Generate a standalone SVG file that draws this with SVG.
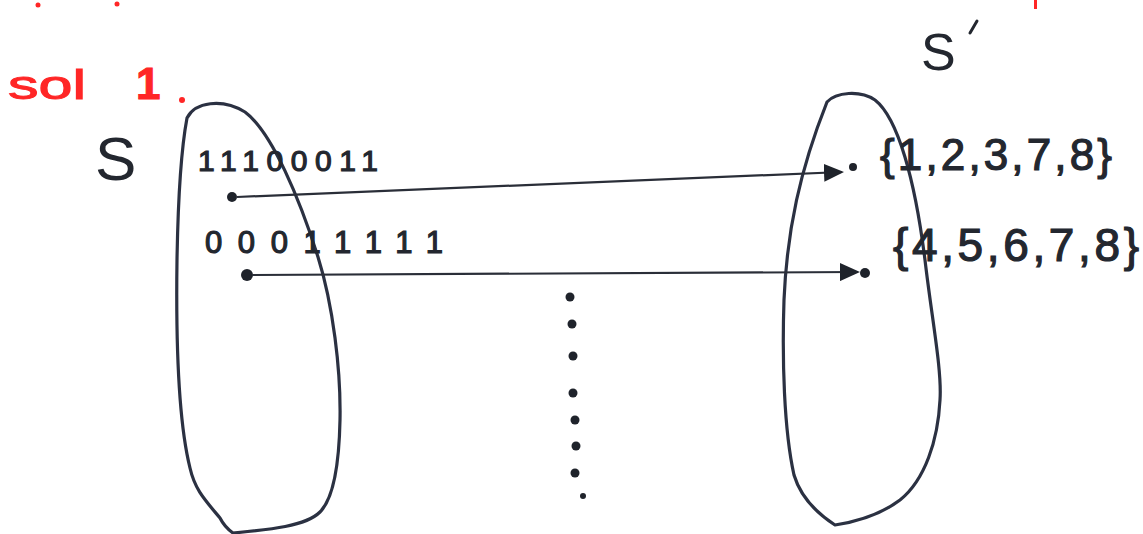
<svg xmlns="http://www.w3.org/2000/svg" width="1143" height="534" viewBox="0 0 1143 534">
<style>
.blob{fill:none;stroke:#2b3142;stroke-width:3.2;stroke-linejoin:round}
.conn{fill:none;stroke:#2a2e38;stroke-width:2.2}
.dot{fill:#1f232b}
.t{font-family:"Liberation Sans","DejaVu Sans",sans-serif;fill:#23272f}
.hw{font-family:"Liberation Sans","DejaVu Sans",sans-serif;fill:#23272f;stroke:#23272f;stroke-width:1.2}
.red{font-family:"Liberation Sans","DejaVu Sans",sans-serif;fill:#ff2626;stroke:#ff2626;stroke-width:1}
</style>
<defs>
<marker id="ahb" markerWidth="20" markerHeight="18" refX="18" refY="9" orient="auto" markerUnits="userSpaceOnUse" viewBox="0 0 20 18">
<path d="M0,0 L20,9 L0,18 Z" fill="#1f232b"/>
</marker>
</defs>
<rect width="1143" height="534" fill="#ffffff"/>

<g id="red-marks">
<circle cx="38" cy="5" r="2.5" fill="#ff2626"/>
<circle cx="117" cy="4" r="2.5" fill="#ff2626"/>
<rect x="1034" y="0" width="3" height="9" fill="#ff2626"/>
<text class="red" x="8" y="99" font-size="40" textLength="78" lengthAdjust="spacingAndGlyphs">sol</text>
<text class="red" x="136" y="99" font-size="44" font-weight="bold">1</text>
<circle cx="182" cy="100" r="3" fill="#ff2626"/>
</g>

<g id="set-S">
<path class="blob" d="M187,118 C195,102 222,98 245,112 C272,132 300,200 318,257 C333,305 341,370 340,420 C339,470 332,500 320,512 C305,527 265,530 233,533 C226,528 222,522 220,518 C205,500 195,490 190,468 C178,420 176,330 177,260 C178,200 181,150 187,118 Z"/>
<text class="t" x="95" y="180" font-size="62">S</text>
<text class="hw" x="198" y="171" font-size="30" textLength="180" lengthAdjust="spacing">11100011</text>
<circle class="dot" cx="232" cy="197" r="5"/>
<text class="hw" x="205" y="253" font-size="31" textLength="238" lengthAdjust="spacing">00011111</text>
<circle class="dot" cx="247" cy="275" r="6"/>
</g>

<g id="set-S-prime">
<path class="blob" d="M827,102 C836,92 860,90 875,100 C898,118 915,180 925,260 C932,320 942,370 940,400 C938,440 925,480 900,500 C880,515 855,522 835,525 C815,512 800,495 794,475 C784,430 782,360 784,300 C787,230 800,170 827,102 Z"/>
<text class="t" x="921" y="70" font-size="52">S</text>
<path d="M970,33 L977,21" stroke="#23272f" stroke-width="3" stroke-linecap="round"/>
<circle class="dot" cx="853" cy="167" r="4"/>
<text class="hw" x="880" y="170" font-size="44" textLength="232" lengthAdjust="spacing">{1,2,3,7,8}</text>
<circle class="dot" cx="865" cy="273" r="5"/>
<text class="hw" x="893" y="261" font-size="46" textLength="246" lengthAdjust="spacing">{4,5,6,7,8}</text>
</g>

<g id="ellipsis">
<circle class="dot" cx="570" cy="297" r="4.5"/>
<circle class="dot" cx="572" cy="324" r="4.5"/>
<circle class="dot" cx="573" cy="356" r="4.5"/>
<circle class="dot" cx="573" cy="393" r="4.5"/>
<circle class="dot" cx="575" cy="420" r="4.5"/>
<circle class="dot" cx="576" cy="446" r="4.5"/>
<circle class="dot" cx="575" cy="473" r="4.5"/>
<circle class="dot" cx="583" cy="496" r="3"/>
</g>

<g id="connectors">
<path class="conn" d="M237,197 L842,172" marker-end="url(#ahb)"/>
<path class="conn" d="M252,275 L858,272" marker-end="url(#ahb)"/>
</g>
</svg>
